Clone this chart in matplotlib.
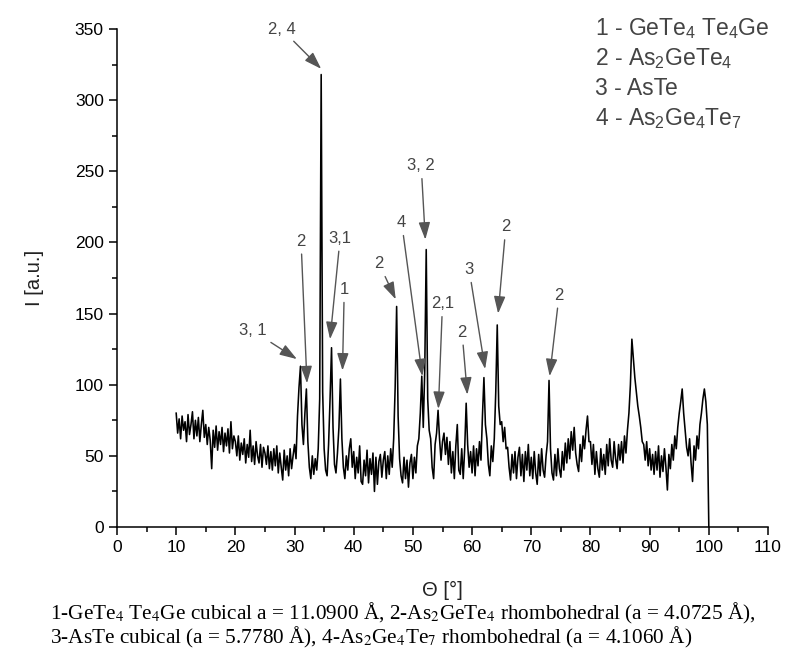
import matplotlib
matplotlib.use("Agg")
import matplotlib.pyplot as plt
import numpy as np
from matplotlib.ticker import MultipleLocator

# XRD trace, one value every 0.25 deg from 10 to 100
THETA_START = 10.0
THETA_STEP = 0.25
INTENSITY = [
    80, 66, 76, 62, 78, 68, 74, 60, 79, 65, 72, 81, 62, 75, 64, 77, 60, 72, 82, 63,   # 10
    72, 58, 70, 61, 41, 68, 56, 71, 54, 67, 58, 70, 53, 66, 57, 69, 52, 74, 55, 64,   # 15
    60, 50, 64, 47, 59, 51, 62, 45, 58, 49, 68, 46, 57, 44, 60, 50, 45, 58, 42, 56,   # 20
    52, 44, 57, 41, 53, 40, 55, 43, 57, 38, 52, 42, 33, 54, 40, 50, 36, 55, 41, 50,   # 25
    58, 48, 78, 98, 113, 72, 58, 80, 97, 60, 42, 34, 50, 37, 48, 40, 55, 90, 318, 95,  # 30
    55, 40, 36, 58, 90, 126, 70, 44, 38, 52, 70, 104, 62, 42, 34, 50, 40, 55, 62, 42,  # 35
    53, 34, 49, 38, 57, 32, 30, 47, 36, 54, 31, 48, 37, 52, 25, 49, 30, 46, 51, 35,   # 40
    47, 53, 34, 50, 37, 55, 42, 62, 98, 155, 78, 48, 36, 31, 49, 34, 47, 28, 45, 51,  # 45
    34, 49, 38, 57, 62, 80, 106, 70, 110, 195, 90, 68, 62, 42, 34, 58, 66, 82, 62, 47,  # 50
    60, 66, 51, 63, 44, 60, 38, 53, 34, 57, 72, 40, 37, 55, 34, 55, 87, 58, 42, 53,   # 55
    38, 57, 36, 55, 43, 60, 47, 78, 105, 72, 62, 44, 36, 57, 46, 62, 95, 142, 85, 72,  # 60
    74, 60, 70, 55, 56, 42, 33, 51, 38, 53, 34, 49, 56, 36, 51, 32, 53, 40, 58, 36,   # 65
    49, 34, 53, 38, 30, 51, 36, 55, 40, 35, 50, 60, 103, 55, 38, 33, 51, 36, 55, 41,  # 70
    35, 53, 40, 59, 45, 62, 48, 67, 54, 70, 52, 44, 39, 58, 46, 64, 55, 68, 78, 60,   # 75
    60, 44, 58, 37, 53, 41, 35, 55, 40, 51, 37, 58, 43, 62, 47, 42, 60, 48, 41, 58,   # 80
    47, 60, 45, 64, 52, 68, 80, 100, 132, 118, 105, 95, 85, 78, 70, 60, 58, 47, 60, 43,  # 85
    55, 40, 51, 37, 53, 40, 57, 35, 50, 39, 55, 42, 26, 51, 41, 58, 47, 64, 55, 70,   # 90
    80, 88, 97, 80, 68, 56, 50, 62, 45, 32, 57, 47, 64, 55, 72, 80, 90, 97, 88, 72,   # 95
    0,
]

PEAK_LABELS = ["2, 4", "3, 1", "2", "3,1", "1", "2", "4", "3, 2", "2,1", "2", "3", "2", "2"]
LABEL_X = [27.8, 22.9, 31.1, 37.7, 38.4, 44.3, 48.1, 51.4, 55.0, 58.3, 59.5, 65.7, 74.7]
LABEL_Y = [350, 138, 201, 203, 167, 185, 214, 254, 157, 137, 181, 211, 163]
TIP_X = [34.5, 30.4, 32.1, 36.0, 38.1, 47.1, 51.6, 52.1, 54.3, 59.2, 62.2, 64.4, 73.1]
TIP_Y = [322, 118, 101, 132, 110, 160, 106, 202, 83, 93, 111, 150, 106]

PHASES = [
    "1 - GeTe$_4$ Te$_4$Ge",
    "2 - As$_2$GeTe$_4$",
    "3 - AsTe",
    "4 - As$_2$Ge$_4$Te$_7$",
]
CAPTION = [
    "1-GeTe$_4$ Te$_4$Ge cubical a = 11.0900 \u00c5, 2-As$_2$GeTe$_4$ rhombohedral (a = 4.0725 \u00c5),",
    "3-AsTe cubical (a = 5.7780 \u00c5), 4-As$_2$Ge$_4$Te$_7$ rhombohedral (a = 4.1060 \u00c5)",
]

plt.rcParams.update({
    "font.family": "Liberation Sans",
    "mathtext.fontset": "custom",
    "mathtext.rm": "Liberation Sans",
    "mathtext.it": "Liberation Sans:italic",
    "axes.linewidth": 1.1,
})

W, H = 787, 665
fig = plt.figure(figsize=(W / 100, H / 100), dpi=100)
ax = fig.add_axes([117 / W, 1 - 527 / H, (768 - 117) / W, (527 - 29) / H])

theta = THETA_START + THETA_STEP * np.arange(len(INTENSITY))
ax.plot(theta, INTENSITY, color="black", linewidth=1.15)

ax.set_xlim(0, 110)
ax.set_ylim(0, 350)
ax.xaxis.set_major_locator(MultipleLocator(10))
ax.xaxis.set_minor_locator(MultipleLocator(5))
ax.yaxis.set_major_locator(MultipleLocator(50))
ax.yaxis.set_minor_locator(MultipleLocator(25))
ax.tick_params(which="major", direction="out", length=6, width=1.1, labelsize=12.5)
ax.tick_params(which="minor", direction="out", length=3.5, width=1.1)
ax.spines["top"].set_visible(False)
ax.spines["right"].set_visible(False)

ax.set_xlabel("\u0398 [\u00b0]", fontsize=14.5, color="#222222")
ax.set_ylabel("I [a.u.]", fontsize=14.5, color="#222222")
ax.xaxis.set_label_coords(0.5, -0.127)
ax.yaxis.set_label_coords(-0.126, 0.5)
ax.xaxis.label.set_va("center")
ax.yaxis.label.set_va("center")

for text, lx, ly, tx, ty in zip(PEAK_LABELS, LABEL_X, LABEL_Y, TIP_X, TIP_Y):
    ax.annotate(
        text,
        xy=(tx, ty),
        xytext=(lx, ly),
        ha="center",
        va="center",
        fontsize=12,
        color="#444444",
        annotation_clip=False,
        arrowprops=dict(
            arrowstyle="-|>,head_length=0.75,head_width=0.25",
            color="#555555",
            lw=1.0,
            mutation_scale=14,
            shrinkA=2,
            shrinkB=0,
        ),
    )

for i, phase in enumerate(PHASES):
    fig.text(595 / W, 1 - (35 + 30 * i) / H, phase, fontsize=16.5,
             color="#444444", ha="left", va="baseline")

for i, line in enumerate(CAPTION):
    fig.text(50 / W, 1 - (613 + 24 * i) / H, line, fontsize=15.3,
             family="Liberation Serif", math_fontfamily="stix",
             ha="left", va="center")

fig.savefig("out.png", dpi=100)
